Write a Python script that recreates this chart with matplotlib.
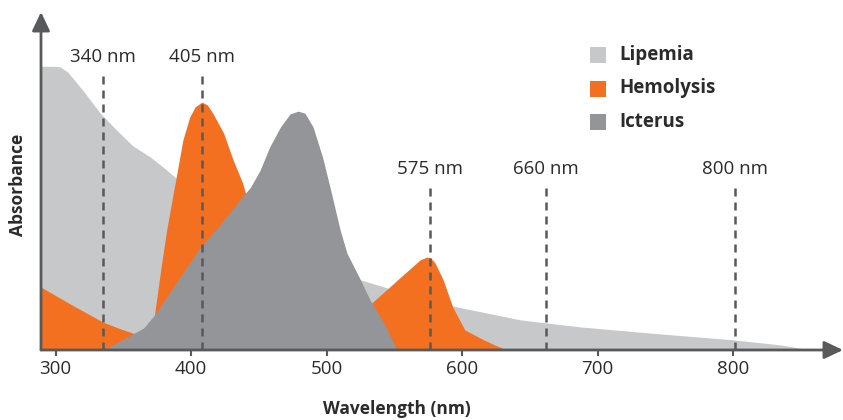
import matplotlib
matplotlib.use('Agg')
import matplotlib.pyplot as plt
from matplotlib.patches import Rectangle

plt.rcParams['font.family'] = ['Open Sans', 'DejaVu Sans']

# absorbance curves (wavelength nm, relative absorbance)
lipemia_nm = [289, 303, 309, 320, 333, 345, 357, 370, 382, 388, 407, 444, 480,
              525, 545, 593, 643, 687, 739, 800, 835, 857]
lipemia_abs = [1.008, 1.006, 0.987, 0.923, 0.841, 0.781, 0.725, 0.685, 0.639,
               0.614, 0.550, 0.444, 0.348, 0.249, 0.220, 0.156, 0.107, 0.082,
               0.060, 0.036, 0.018, 0.0]

hemolysis_nm = [289, 311, 335, 348, 359, 366, 370, 373, 378, 382, 386, 390, 394,
                399, 403, 408, 412, 416, 424, 431, 438, 441, 451, 466, 480, 495,
                514, 534, 554, 569, 574, 577, 580, 586, 593, 602, 616, 624, 633]
hemolysis_abs = [0.224, 0.163, 0.099, 0.075, 0.057, 0.046, 0.043, 0.124, 0.298,
                 0.426, 0.533, 0.639, 0.746, 0.827, 0.863, 0.880, 0.870, 0.841,
                 0.770, 0.675, 0.593, 0.543, 0.391, 0.213, 0.089, 0.043, 0.080,
                 0.170, 0.256, 0.320, 0.330, 0.326, 0.309, 0.249, 0.153, 0.071,
                 0.036, 0.018, 0.0]

icterus_nm = [335, 346, 357, 365, 373, 387, 407, 418, 427, 436, 444, 451, 458,
              466, 473, 479, 484, 490, 497, 503, 510, 515, 525, 532, 543, 552]
icterus_abs = [0.0, 0.028, 0.057, 0.078, 0.124, 0.224, 0.366, 0.426, 0.479,
               0.533, 0.579, 0.639, 0.721, 0.792, 0.838, 0.848, 0.841, 0.792,
               0.685, 0.568, 0.426, 0.344, 0.249, 0.178, 0.089, 0.0]

# measurement wavelengths (dashed lines)
marker_nm = [335, 408, 576, 662, 801]
marker_labels = ['340 nm', '405 nm', '575 nm', '660 nm', '800 nm']
marker_top = [0.99, 0.99, 0.593, 0.593, 0.593]

xticks = [300, 400, 500, 600, 700, 800]

series_names = ['Lipemia', 'Hemolysis', 'Icterus']
colors = ['#c7c8ca', '#f37021', '#939598']
axc = '#58595b'
txt = '#2b2b2b'

W, H = 843, 420
fig = plt.figure(figsize=(W / 100, H / 100), dpi=100)
ax = fig.add_axes([41 / W, 70 / H, 802 / W, 338 / H])
x0, x1 = 289.3, 881
ax.set_xlim(x0, x1)
ax.set_ylim(0, 1.2)

ax.fill_between(lipemia_nm, lipemia_abs, 0, color=colors[0], lw=0, zorder=1)
ax.fill_between(hemolysis_nm, hemolysis_abs, 0, color=colors[1], lw=0, zorder=2)
ax.fill_between(icterus_nm, icterus_abs, 0, color=colors[2], lw=0, zorder=3)

for xm, lab, top in zip(marker_nm, marker_labels, marker_top):
    ax.plot([xm, xm], [0, top], color=axc, lw=1.8, dashes=(3.2, 2.4), zorder=4)
    ax.text(xm, top + 0.05, lab, ha='center', va='center', fontsize=13.5, color=txt)

for s in ax.spines.values():
    s.set_visible(False)
ax.set_yticks([])
ax.set_xticks(xticks)
ax.tick_params(axis='x', length=4, width=1.5, color=axc, pad=3.5,
               labelsize=13.5, labelcolor=txt)

arrow = dict(arrowstyle='-|>,head_length=0.95,head_width=0.45', mutation_scale=12,
             lw=2, color=axc, shrinkA=0, shrinkB=0)
ax.annotate('', xy=(x1, 0), xytext=(x0, 0), arrowprops=arrow,
            annotation_clip=False, zorder=6)
ax.annotate('', xy=(x0, 1.2), xytext=(x0, 0), arrowprops=arrow,
            annotation_clip=False, zorder=6)

fig.text(397 / W, 1 - 409 / H, 'Wavelength (nm)', ha='center', va='center',
         fontsize=12.5, fontweight='bold', color=txt)
fig.text(18 / W, 1 - 185 / H, 'Absorbance', ha='center', va='center',
         rotation=90, fontsize=12.5, fontweight='bold', color=txt)

# legend
for i, (name, c) in enumerate(zip(series_names, colors)):
    yc = 55 + i * 33.5
    fig.add_artist(Rectangle((590 / W, 1 - (yc + 8) / H), 16 / W, 16 / H,
                             transform=fig.transFigure, color=c, lw=0))
    fig.text(619 / W, 1 - yc / H, name, ha='left', va='center', fontsize=13.5,
             fontweight='bold', color=txt)

fig.savefig('out.png', dpi=100)
